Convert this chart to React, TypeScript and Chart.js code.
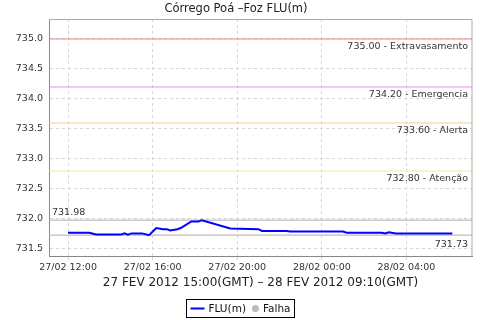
import React, { useEffect, useRef } from "react";
import { Chart, registerables } from "chart.js";

Chart.register(...registerables);

const FONT = "DejaVu Sans";

const chartTitle = "Córrego Poá –Foz FLU(m)";
const axisTitle = "27 FEV 2012 15:00(GMT) – 28 FEV 2012 09:10(GMT)";

// hours since 27/02 00:00 (local)
const sampleHours = [
  12.0, 13.0, 13.33, 14.5, 14.67, 14.83, 15.0, 15.5, 15.83, 16.17, 16.5, 16.67,
  16.83, 17.17, 17.33, 17.83, 18.17, 18.33, 19.67, 21.0, 21.17, 22.33, 22.5,
  25.0, 25.17, 26.83, 27.0, 27.17, 27.5, 30.17,
];
const levelValues = [
  731.77, 731.77, 731.74, 731.74, 731.76, 731.74, 731.76, 731.76, 731.73,
  731.85, 731.83, 731.83, 731.81, 731.83, 731.85, 731.96, 731.96, 731.98,
  731.84, 731.83, 731.8, 731.8, 731.79, 731.79, 731.77, 731.77, 731.76,
  731.78, 731.76, 731.76,
];

const xTickHours = [12, 16, 20, 24, 28];
const xTickLabels = ["27/02 12:00", "27/02 16:00", "27/02 20:00", "28/02 00:00", "28/02 04:00"];
const yTickValues = [731.5, 732.0, 732.5, 733.0, 733.5, 734.0, 734.5, 735.0];

const thresholdValues = [735.0, 734.2, 733.6, 732.8];
const thresholdNames = ["Extravasamento", "Emergencia", "Alerta", "Atenção"];
const thresholdColors = ["#e88484", "#ee8cee", "#f7c99a", "#f5e6a6"];

const maxValue = 731.98;
const minValue = 731.73;

const legendLabels = ["FLU(m)", "Falha"];
const legendColors = ["#0000ff", "#bbbbbb"];

const X_MIN = 11.1;
const X_MAX = 31.1;
const Y_MIN = 731.383;
const Y_MAX = 735.333;

export default function App() {
  const canvasRef = useRef<HTMLCanvasElement | null>(null);

  useEffect(() => {
    if (!canvasRef.current) return;

    const hline = (v: number) => [
      { x: X_MIN, y: v },
      { x: X_MAX, y: v },
    ];

    const datasets: any[] = [
      {
        label: legendLabels[0],
        data: sampleHours.map((h, i) => ({ x: h, y: levelValues[i] })),
        borderColor: legendColors[0],
        borderWidth: 2,
        pointRadius: 0,
        tension: 0,
        order: 0,
      },
      ...thresholdValues.map((v, i) => ({
        label: thresholdNames[i],
        data: hline(v),
        borderColor: thresholdColors[i],
        borderWidth: 1,
        pointRadius: 0,
        order: 2,
      })),
      {
        label: "max",
        data: hline(maxValue),
        borderColor: "#bdbdbd",
        borderWidth: 1.2,
        pointRadius: 0,
        order: 2,
      },
      {
        label: "min",
        data: hline(minValue),
        borderColor: "#bdbdbd",
        borderWidth: 1.2,
        pointRadius: 0,
        order: 2,
      },
    ];

    const labelPlugin = {
      id: "labels",
      afterDatasetsDraw(chart: any) {
        const { ctx, chartArea, scales } = chart;
        const ys = scales.y;
        ctx.save();
        ctx.font = `9.5px "${FONT}"`;
        ctx.fillStyle = "#333";
        ctx.textBaseline = "middle";
        ctx.textAlign = "right";
        thresholdValues.forEach((v, i) => {
          const y = ys.getPixelForValue(v);
          ctx.fillText(`${v.toFixed(2)} - ${thresholdNames[i]}`, chartArea.right - 4, y + 8);
        });
        const yMin = ys.getPixelForValue(minValue);
        ctx.fillText(minValue.toFixed(2), chartArea.right - 4, yMin + 9);
        ctx.textAlign = "left";
        const yMax = ys.getPixelForValue(maxValue);
        ctx.fillText(maxValue.toFixed(2), chartArea.left + 3, yMax - 8);
        ctx.restore();
      },
      afterDraw(chart: any) {
        const { ctx, chartArea } = chart;
        ctx.save();
        ctx.strokeStyle = "#aaaaaa";
        ctx.lineWidth = 1;
        ctx.beginPath();
        ctx.moveTo(chartArea.left, Math.round(chartArea.top) + 0.5);
        ctx.lineTo(chartArea.right, Math.round(chartArea.top) + 0.5);
        ctx.lineTo(chartArea.right, chartArea.bottom);
        ctx.stroke();

        // legend
        ctx.font = `10.5px "${FONT}"`;
        const w1 = ctx.measureText(legendLabels[0]).width;
        const w2 = ctx.measureText(legendLabels[1]).width;
        const total = 4 + 14 + 4 + w1 + 6 + 7 + 4 + w2 + 4;
        const bx = Math.round(240 - total / 2) + 0.5;
        const by = 299.5;
        const bh = 18;
        const cy = by + bh / 2;
        ctx.strokeStyle = "#000";
        ctx.lineWidth = 1;
        ctx.strokeRect(bx, by, total, bh);
        let x = bx + 4;
        ctx.strokeStyle = legendColors[0];
        ctx.lineWidth = 2;
        ctx.beginPath();
        ctx.moveTo(x, cy);
        ctx.lineTo(x + 14, cy);
        ctx.stroke();
        x += 18;
        ctx.fillStyle = "#111";
        ctx.textBaseline = "middle";
        ctx.textAlign = "left";
        ctx.fillText(legendLabels[0], x, cy + 0.5);
        x += w1 + 6;
        ctx.fillStyle = legendColors[1];
        ctx.beginPath();
        ctx.arc(x + 3.5, cy, 3.5, 0, Math.PI * 2);
        ctx.fill();
        x += 11;
        ctx.fillStyle = "#111";
        ctx.fillText(legendLabels[1], x, cy + 0.5);
        ctx.restore();
      },
    };

    const chart = new Chart(canvasRef.current, {
      type: "line",
      data: { datasets },
      plugins: [labelPlugin],
      options: {
        animation: false,
        responsive: false,
        devicePixelRatio: 1,
        layout: { padding: { top: 0, right: 8, bottom: 22, left: 0 } },
        plugins: {
          legend: { display: false },
          tooltip: { enabled: false },
          title: {
            display: true,
            text: chartTitle,
            color: "#222",
            font: { family: FONT, size: 11.5, weight: "normal" },
            padding: { top: 2, bottom: 3.2 },
          },
        },
        scales: {
          x: {
            type: "linear",
            min: X_MIN,
            max: X_MAX,
            afterBuildTicks: (s: any) => {
              s.ticks = xTickHours.map((v) => ({ value: v }));
            },
            afterFit: (s: any) => {
              s.height = 42;
            },
            ticks: {
              callback: (v: any) => {
                const i = xTickHours.indexOf(Number(v));
                return i >= 0 ? xTickLabels[i] : "";
              },
              autoSkip: false,
              maxRotation: 0,
              padding: 2,
              color: "#333",
              font: { family: FONT, size: 9.5 },
            },
            grid: { color: "#d6d6d6", tickLength: 4, lineWidth: 1 },
            border: { display: true, color: "#888", dash: [3, 3] },
            title: {
              display: true,
              text: axisTitle,
              color: "#222",
              font: { family: FONT, size: 12 },
              padding: { top: 0, bottom: 8 },
            },
          },
          y: {
            type: "linear",
            min: Y_MIN,
            max: Y_MAX,
            afterBuildTicks: (s: any) => {
              s.ticks = yTickValues.map((v) => ({ value: v }));
            },
            afterFit: (s: any) => {
              s.width = 49;
            },
            ticks: {
              callback: (v: any) => Number(v).toFixed(1),
              padding: 6,
              color: "#333",
              font: { family: FONT, size: 9.5 },
            },
            grid: { color: "#d6d6d6", drawTicks: false, lineWidth: 1 },
            border: { display: true, color: "#888", dash: [3, 3] },
          },
        },
      } as any,
    });

    return () => chart.destroy();
  }, []);

  return (
    <div style={{ position: "absolute", left: 0, top: 0, width: 480, height: 320, background: "#fff" }}>
      <canvas ref={canvasRef} width={480} height={320} style={{ display: "block" }} />
    </div>
  );
}
